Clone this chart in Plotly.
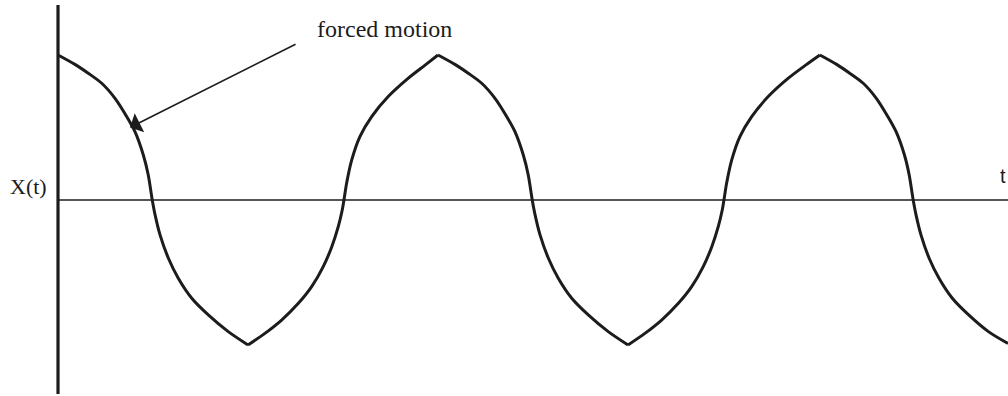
import plotly.graph_objects as go

# Displacement curve X(t)
# (t in half-periods from the vertical axis, X normalised to the peak height)
t_values = [
    # peak -> trough
    0.000, 0.089, 0.159, 0.230, 0.300, 0.362, 0.405, 0.449, 0.475, 0.496, 0.511, 0.537, 0.581, 0.633, 0.704, 0.791, 0.896,
    # trough -> peak
    1.000, 1.089, 1.177, 1.265, 1.335, 1.396, 1.441, 1.475, 1.496, 1.505, 1.519, 1.546, 1.589, 1.651, 1.738, 1.844, 1.932,
    # peak -> trough
    2.000, 2.089, 2.159, 2.230, 2.300, 2.362, 2.405, 2.449, 2.475, 2.496, 2.511, 2.537, 2.581, 2.633, 2.704, 2.791, 2.896,
    # trough -> peak
    3.000, 3.089, 3.177, 3.265, 3.335, 3.396, 3.441, 3.475, 3.496, 3.505, 3.519, 3.546, 3.589, 3.651, 3.738, 3.844, 3.935,
    # peak -> edge
    4.010, 4.098, 4.167, 4.238, 4.307, 4.368, 4.411, 4.455, 4.480, 4.501, 4.516, 4.542, 4.585, 4.637, 4.707, 4.793, 4.897,
    5.000,
]
x_values = [
    1.000, 0.935, 0.874, 0.805, 0.701, 0.574, 0.471, 0.310, 0.172, 0.000, -0.103, -0.241, -0.402, -0.540, -0.678, -0.793, -0.908,
    -1.000, -0.920, -0.828, -0.713, -0.598, -0.460, -0.322, -0.184, -0.069, 0.000, 0.115, 0.276, 0.437, 0.575, 0.713, 0.840, 0.930,
    1.000, 0.935, 0.874, 0.805, 0.701, 0.574, 0.471, 0.310, 0.172, 0.000, -0.103, -0.241, -0.402, -0.540, -0.678, -0.793, -0.908,
    -1.000, -0.920, -0.828, -0.713, -0.598, -0.460, -0.322, -0.184, -0.069, 0.000, 0.115, 0.276, 0.437, 0.575, 0.713, 0.840, 0.930,
    1.000, 0.935, 0.874, 0.805, 0.701, 0.574, 0.471, 0.310, 0.172, 0.000, -0.103, -0.241, -0.402, -0.540, -0.678, -0.793, -0.908,
    -0.990,
]

# Point on the curve that the arrow indicates
arrow_target = (0.379, 0.50)
label_text = "forced motion"
y_label = "X(t)"
x_label = "t"

ink = "#1c1c1c"

# split the curve at its cusps (local extrema) so each arc is smoothed on its own
cusps = [0]
for i in range(1, len(x_values) - 1):
    if (x_values[i] - x_values[i - 1]) * (x_values[i + 1] - x_values[i]) < 0:
        cusps.append(i)
cusps.append(len(x_values) - 1)

fig = go.Figure()
for a, b in zip(cusps[:-1], cusps[1:]):
    fig.add_trace(go.Scatter(
        x=t_values[a:b + 1], y=x_values[a:b + 1], mode="lines",
        line=dict(color=ink, width=3, shape="spline", smoothing=0.8),
        hoverinfo="skip", showlegend=False,
    ))

# axes drawn as lines
fig.add_shape(type="line", x0=0, x1=0, y0=-1.338, y1=1.345, xref="x", yref="y",
              line=dict(color=ink, width=3.2))
fig.add_shape(type="line", x0=0, x1=5.0, y0=0, y1=0, xref="x", yref="y",
              line=dict(color=ink, width=1.6))

fig.add_annotation(x=-0.05, y=0.09, text=y_label, showarrow=False, xanchor="right", yanchor="middle",
                   font=dict(family="Liberation Serif", size=22, color=ink))
fig.add_annotation(x=4.999, y=0.165, text=x_label, showarrow=False, xanchor="right", yanchor="middle",
                   font=dict(family="Liberation Sans", size=20, color=ink))
fig.add_annotation(x=1.72, y=1.18, text=label_text, showarrow=False, xanchor="center", yanchor="middle",
                   font=dict(family="Liberation Serif", size=24, color=ink))
fig.add_annotation(x=arrow_target[0], y=arrow_target[1], text="", showarrow=True,
                   ax=167, ay=-84, arrowhead=1, arrowsize=2.2, arrowwidth=1.6, arrowcolor=ink,
                   standoff=0)

fig.update_layout(
    width=1008, height=396,
    margin=dict(l=0, r=0, t=0, b=0),
    paper_bgcolor="white", plot_bgcolor="white",
    xaxis=dict(range=[-0.3053, 5.0], visible=False, fixedrange=True),
    yaxis=dict(range=[-1.352, 1.379], visible=False, fixedrange=True),
)

fig.write_html(
    "out.html",
    config={"displayModeBar": False},
    post_script="document.body.style.margin='0';document.body.style.padding='0';document.body.style.overflow='hidden';",
)
